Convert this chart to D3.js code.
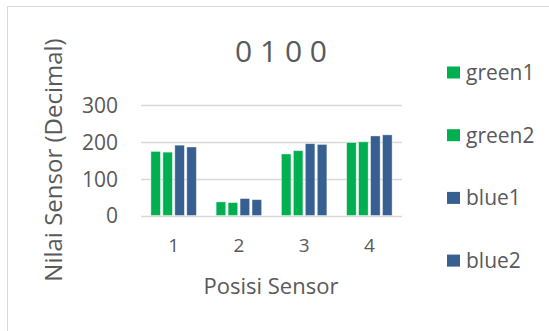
<!DOCTYPE html>
<html>
<head>
<meta charset="utf-8">
<script src="https://cdn.jsdelivr.net/npm/d3@7"></script>
<style>
  html, body { margin: 0; padding: 0; background: #fff; }
  svg { display: block; }
  text { font-family: "Open Sans", sans-serif; fill: #595959; }
</style>
</head>
<body>
<svg id="chart" width="549" height="331"></svg>
<script>
const title = "0 1 0 0";
const categories = ["1", "2", "3", "4"];
const seriesNames = ["green1", "green2", "blue1", "blue2"];
const green1 = [174, 37, 167, 198];
const green2 = [172, 35, 176, 200];
const blue1 = [191, 46, 195, 216];
const blue2 = [186, 43, 193, 219];
const yTicks = [0, 100, 200, 300];
const colors = ["#00b050", "#00b050", "#375f92", "#375f92"];
const xTitle = "Posisi Sensor";
const yTitle = "Nilai Sensor (Decimal)";

const seriesValues = [green1, green2, blue1, blue2];
const W = 549, H = 331;
const svg = d3.select("#chart");

// outer frame
svg.append("rect").attr("x", 7.5).attr("y", 6.5).attr("width", 560).attr("height", 340)
  .attr("fill", "none").attr("stroke", "#d9d9d9").attr("stroke-width", 1);

const plot = { left: 141, right: 402, top: 105, bottom: 215.5 };

const x0 = d3.scaleBand().domain(categories).range([plot.left, plot.right])
  .paddingInner(0.303).paddingOuter(0.1515);
const x1 = d3.scaleBand().domain(seriesNames).range([0, x0.bandwidth()])
  .paddingInner(0.2).paddingOuter(0);
const y = d3.scaleLinear().domain([0, 300]).range([plot.bottom, plot.top]);

// gridlines
svg.append("g").selectAll("line").data(yTicks).join("line")
  .attr("x1", plot.left).attr("x2", plot.right)
  .attr("y1", d => Math.round(y(d)) + 0.5).attr("y2", d => Math.round(y(d)) + 0.5)
  .attr("stroke", "#d9d9d9").attr("stroke-width", 1.3);

// y axis labels
const yAxis = d3.axisLeft(y).tickValues(yTicks).tickSize(0).tickPadding(0);
const gy = svg.append("g").attr("transform", `translate(118,0)`).call(yAxis);
gy.select(".domain").remove();
gy.selectAll("text").style("font-size", "21px").attr("fill", "#595959").attr("dy", "0.35em");

// x axis labels
const xAxis = d3.axisBottom(x0).tickSize(0).tickPadding(0);
const gx = svg.append("g").attr("transform", `translate(0,234)`).call(xAxis);
gx.select(".domain").remove();
gx.selectAll("text").style("font-size", "19px").attr("fill", "#595959").attr("dy", "0.95em");

// bars
const groups = svg.append("g").selectAll("g").data(categories).join("g")
  .attr("transform", d => `translate(${x0(d)},0)`);
groups.selectAll("rect")
  .data((c, ci) => seriesNames.map((s, si) => ({ s, si, v: seriesValues[si][ci] })))
  .join("rect")
  .attr("x", d => x1(d.s))
  .attr("width", x1.bandwidth())
  .attr("y", d => y(d.v))
  .attr("height", d => y(0) - y(d.v))
  .attr("fill", d => colors[d.si])
  .attr("stroke", "#ffffff").attr("stroke-opacity", 0.5).attr("stroke-width", 0.8);

// title
svg.append("text").attr("x", 281).attr("y", 62).attr("text-anchor", "middle")
  .style("font-size", "30px").text(title);

// axis titles
svg.append("text").attr("x", 271).attr("y", 294).attr("text-anchor", "middle")
  .style("font-size", "22px").text(xTitle);
svg.append("text").attr("transform", "translate(62,160) rotate(-90)").attr("text-anchor", "middle")
  .style("font-size", "24px").text(yTitle);

// legend
const leg = svg.append("g").selectAll("g").data(seriesNames).join("g")
  .attr("transform", (d, i) => `translate(447,${72.5 + i * 62.7})`);
leg.append("rect").attr("x", 0).attr("y", -6).attr("width", 13).attr("height", 12)
  .attr("fill", (d, i) => colors[i]);
leg.append("text").attr("x", 19).attr("y", 0).attr("dy", "0.36em")
  .style("font-size", "21px").text(d => d);
</script>
</body>
</html>
